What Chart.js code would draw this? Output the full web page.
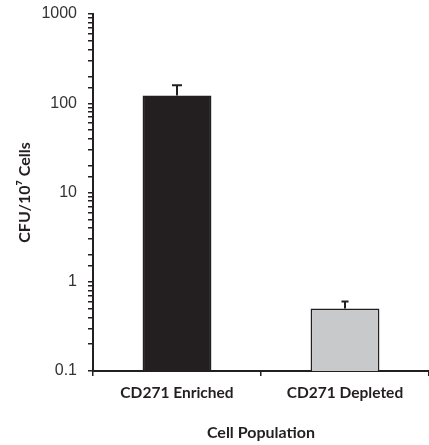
<!DOCTYPE html>
<html>
<head>
<meta charset="utf-8">
<script src="https://cdn.jsdelivr.net/npm/chart.js@4.4.0/dist/chart.umd.min.js"></script>
<style>
html,body{margin:0;padding:0;background:#fff;}
canvas{display:block;}
</style>
</head>
<body>
<canvas id="c" width="429" height="445"></canvas>
<script>
const categories = ['CD271 Enriched', 'CD271 Depleted'];
const values = [122, 0.5];
const errorTops = [159, 0.6];
const yTickLabels = ['0.1', '1', '10', '100', '1000'];
const yTitle = 'CFU/10\u2077 Cells';
const xTitle = 'Cell Population';

const INK = '#231f20';

const errorBarPlugin = {
  id: 'errorBars',
  afterDatasetsDraw(chart, args, opts) {
    const ctx = chart.ctx;
    const meta = chart.getDatasetMeta(0);
    const yScale = chart.scales.y;
    ctx.save();
    ctx.strokeStyle = INK;
    ctx.lineWidth = 2;
    meta.data.forEach((bar, i) => {
      const x = bar.x;
      const yTop = yScale.getPixelForValue(errorTops[i]);
      const yBase = bar.y;
      const cap = opts.caps[i];
      ctx.beginPath();
      ctx.moveTo(x, yBase);
      ctx.lineTo(x, yTop);
      ctx.moveTo(x - cap / 2, yTop);
      ctx.lineTo(x + cap / 2, yTop);
      ctx.stroke();
    });
    ctx.restore();
  }
};

new Chart(document.getElementById('c'), {
  type: 'bar',
  data: {
    labels: categories,
    datasets: [{
      data: values,
      backgroundColor: [INK, '#c8c9cb'],
      borderColor: INK,
      borderWidth: 1.5,
      barPercentage: 0.41,
      categoryPercentage: 1.0
    }]
  },
  plugins: [errorBarPlugin],
  options: {
    responsive: false,
    animation: false,
    layout: { padding: { top: 14, left: 0, right: 0, bottom: 0 } },
    plugins: {
      legend: { display: false },
      tooltip: { enabled: false },
      errorBars: { caps: [10, 7] }
    },
    scales: {
      x: {
        afterFit(s) { s.height = 74; s.paddingLeft = 0; s.paddingRight = 0; },
        grid: {
          offset: true,
          drawOnChartArea: false,
          drawTicks: true,
          tickLength: 5,
          color: INK,
          lineWidth: 1.5
        },
        border: { display: true, color: INK, width: 2 },
        ticks: {
          padding: 8,
          color: INK,
          font: { family: 'Lato', weight: 'bold', size: 15.5 }
        },
        title: {
          display: true,
          text: xTitle,
          color: INK,
          font: { family: 'Lato', weight: 'bold', size: 16 },
          padding: { top: 3, bottom: 3 }
        }
      },
      y: {
        type: 'logarithmic',
        min: 0.1,
        max: 1000,
        afterFit(s) { s.width = 93; s.paddingTop = 0; s.paddingBottom = 0; },
        grid: {
          drawOnChartArea: false,
          drawTicks: true,
          tickLength: 5,
          color: INK,
          lineWidth: 1.5
        },
        border: { display: true, color: INK, width: 2 },
        ticks: {
          autoSkip: false,
          padding: 11,
          color: '#333',
          font: { family: 'Liberation Sans', size: 16 },
          callback(v) {
            const l = Math.log10(v);
            if (Math.abs(l - Math.round(l)) < 1e-9) {
              return yTickLabels[Math.round(l) + 1];
            }
            return '';
          }
        },
        title: {
          display: true,
          text: yTitle,
          color: INK,
          font: { family: 'Lato', weight: 'bold', size: 16 },
          padding: { top: 15, bottom: 15 }
        }
      }
    }
  }
});
</script>
</body>
</html>
